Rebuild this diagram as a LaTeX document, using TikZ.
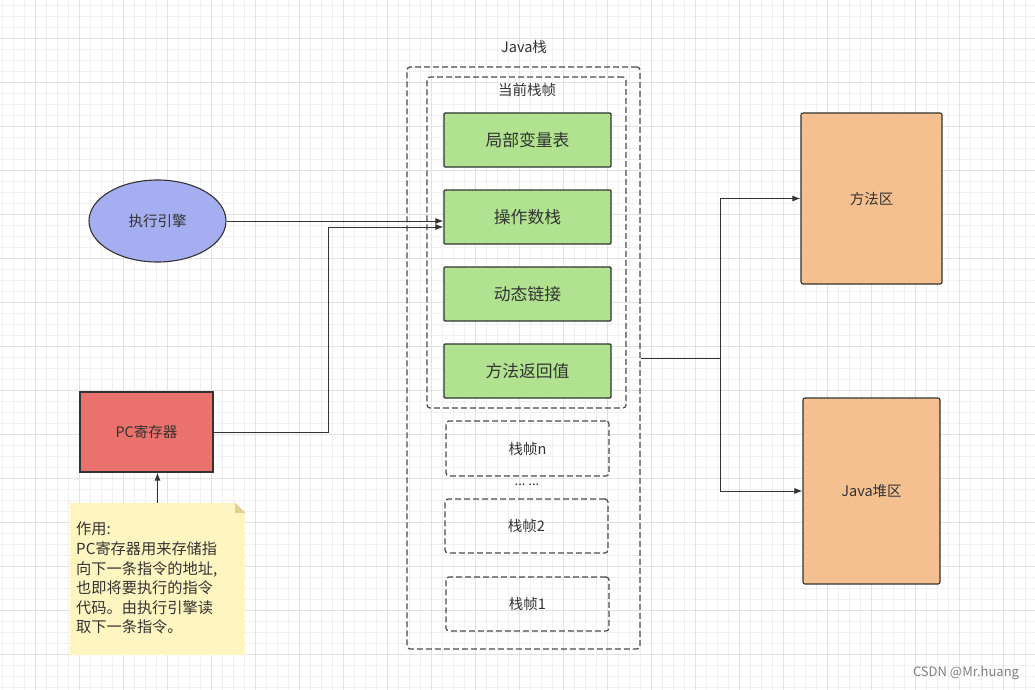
\documentclass[tikz,border=0pt]{standalone}
\usepackage{fontspec}
\setmainfont{Noto Sans CJK SC}
\usetikzlibrary{arrows.meta,shapes.geometric}
\definecolor{ln}{HTML}{333333}
\definecolor{dl}{HTML}{4A4A4A}
\definecolor{gminor}{HTML}{F0F0F0}
\definecolor{gmajor}{HTML}{E2E2E2}
\definecolor{greenf}{HTML}{B0E28F}
\definecolor{orangef}{HTML}{F5C08F}
\definecolor{bluef}{HTML}{A6AEF2}
\definecolor{redf}{HTML}{EB716D}
\definecolor{notef}{HTML}{FFF5C0}
\definecolor{foldf}{HTML}{E3D08E}
\definecolor{txt}{HTML}{333333}
\tikzset{
  sm/.style={font=\fontsize{14.5}{16}\selectfont, text=txt},
  md/.style={font=\fontsize{16.8}{19}\selectfont, text=txt},
  greenbox/.style={draw=ln, line width=1.1pt, fill=greenf, minimum width=167pt, minimum height=54pt, inner sep=0pt, rounded corners=1pt, md},
  framebox/.style={draw=dl, line width=1.2pt, dash pattern=on 6pt off 3pt, rounded corners=3pt, inner sep=0pt, sm},
  areabox/.style={draw=ln, line width=1.1pt, fill=orangef, rounded corners=2pt, inner sep=0pt, sm},
  arr/.style={draw=ln, line width=1pt, -{Latex[length=8pt,width=6pt]}},
}
\begin{document}
\begin{tikzpicture}[x=1pt,y=-1pt]
\useasboundingbox (0,0) rectangle (1035,690);
\fill[white] (0,0) rectangle (1035,690);
% grid
\foreach \i in {0,...,94} { \draw[gminor, line width=1pt] ({2.3+11*\i},0) -- ({2.3+11*\i},690); }
\foreach \j in {0,...,62} { \draw[gminor, line width=1pt] (0,{5.7+11*\j}) -- (1035,{5.7+11*\j}); }
\foreach \i in {0,...,22} { \draw[gmajor, line width=1pt] ({35.3+44*\i},0) -- ({35.3+44*\i},690); }
\foreach \j in {0,...,15} { \draw[gmajor, line width=1pt] (0,{38.7+44*\j}) -- (1035,{38.7+44*\j}); }

% engine and PC
\node[ellipse, draw=ln, line width=1.1pt, fill=bluef, minimum width=137pt, minimum height=82pt, inner sep=0pt, sm] (eng) at (157.5,221) {执行引擎};
\node[draw=ln, line width=1.1pt, fill=redf, minimum width=133pt, minimum height=80pt, inner sep=0pt, sm] (pc) at (146.5,432) {PC寄存器};

% note
\node[minimum width=175pt, minimum height=152pt, inner sep=0pt] (note) at (157.5,579) {};
\fill[notef] (note.north west) -- ([xshift=-10pt]note.north east) -- ([yshift=-10pt]note.north east) -- (note.south east) -- (note.south west) -- cycle;
\fill[foldf] ([xshift=-10pt]note.north east) -- ([xshift=-10pt,yshift=-10pt]note.north east) -- ([yshift=-10pt]note.north east) -- cycle;
\node[anchor=north west, align=left, inner sep=0pt, text=txt, font=\fontsize{15.2}{19.6}\selectfont] (notetext) at (76,522) {作用:\\PC寄存器用来存储指\\向下一条指令的地址,\\也即将要执行的指令\\代码。由执行引擎读\\取下一条指令。};
\draw[arr] (note.north) -- (note.north |- pc.south);

% Java stack
\node[framebox, minimum width=233pt, minimum height=582pt] (js) at (523.5,358) {};
\node[sm] (jsl) at (524,47) {Java栈};
\node[framebox, minimum width=199pt, minimum height=331pt] (cur) at (526.5,242.5) {};
\node[sm] (curl) at (527,90) {当前栈帧};
\node[greenbox] (lv) at (527.5,140) {局部变量表};
\node[greenbox] (op) at (527.5,217) {操作数栈};
\node[greenbox] (dyn) at (527.5,294) {动态链接};
\node[greenbox] (ret) at (527.5,371) {方法返回值};
\node[framebox, minimum width=163pt, minimum height=55pt] (fn) at (527.5,448.5) {栈帧n};
\node[text=txt, font=\fontsize{13}{15}\selectfont] (dots) at (527,485) {...\ ...};
\node[framebox, minimum width=163pt, minimum height=54pt] (f2) at (526.5,526) {栈帧2};
\node[framebox, minimum width=163pt, minimum height=54pt] (f1) at (527.5,604) {栈帧1};

% areas
\node[areabox, minimum width=141pt, minimum height=171pt] (mf) at (871.5,198.5) {方法区};
\node[areabox, minimum width=137pt, minimum height=186pt] (heap) at (871.5,491) {Java堆区};

% connectors
\draw[arr] (eng.east) -- (eng.east -| op.west);
\draw[arr] (pc.east) -- ++(115,0) |- ([yshift=-10pt]op.west);
\draw[arr] (js.east) -- ++(80,0) |- (mf.west);
\draw[arr] (js.east) -- ++(80,0) |- (heap.west);

% watermark
\node[font=\fontsize{13}{15}\selectfont, text=black!50] (wm) at (966,673) {CSDN @Mr.huang};
\end{tikzpicture}
\end{document}
